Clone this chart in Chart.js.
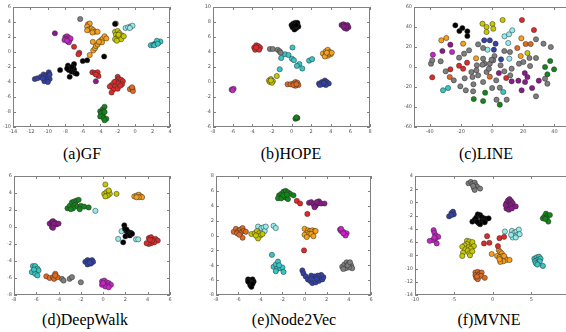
<!DOCTYPE html>
<html><head><meta charset="utf-8">
<script src="https://cdn.jsdelivr.net/npm/chart.js@4.4.0/dist/chart.umd.min.js"></script>
<style>
html,body{margin:0;padding:0;background:#fff;}
body{width:566px;height:332px;overflow:hidden;position:relative;}
canvas{position:absolute;}
.cap{position:absolute;font-family:"Liberation Serif","Times New Roman",serif;font-size:16px;color:#000;white-space:nowrap;transform:translate(-50%,-50%);}
</style></head><body>
<script>
// ---------- colours ----------
const C_BLACK='#000000', C_BLUE='#3442a6', C_GREEN='#13861c', C_RED='#e02a2a', C_CYAN='#35c6c6',
      C_LCYAN='#92ecec', C_MAG='#c824c8', C_PUR='#8c1a8c', C_YEL='#c8c800', C_ORA='#f8a01a',
      C_DORA='#e06a22', C_GRAY='#7e7e7e';

// ---------- (a) GF ----------
const aTicksX=[-14,-12,-10,-8,-6,-4,-2,0,2,4], aTicksY=[-10,-8,-6,-4,-2,0,2,4,6];
const a_gray=[[-6.3,4.4]];
const a_purple=[[-9.2,2.5],[-4.5,-3.9]];
const a_magenta=[[-8.0,2.0],[-7.8,2.1],[-7.6,1.9],[-7.9,1.7],[-7.5,1.6],[-7.7,1.4],[-7.4,1.8],[-8.1,1.6],[-7.6,1.3],[-7.8,1.5]];
const a_red=[[-7.0,0.7],[-6.4,-0.1],[-6.5,-0.3],[-4.9,-2.7],[-4.6,-2.8],[-4.3,-2.7],[-4.2,-3.2],[-4.5,-3.0],[-2.0,-3.3],[-1.9,-3.6],[-1.6,-3.7],[-1.4,-3.9],[-2.2,-3.9],[-2.4,-4.0],[-1.9,-4.2],[-2.7,-4.4],[-2.3,-4.6],[-1.5,-4.3],[-2.5,-5.0],[-2.7,-5.4],[-2.0,-4.9],[-1.7,-4.5],[-2.9,-4.6]];
const a_orange=[[-5.4,3.7],[-5.2,3.8],[-5.5,3.4],[-5.3,3.0],[-5.0,3.1],[-4.8,2.9],[-4.6,2.7],[-4.9,2.6],[-4.3,2.7],[-5.5,2.9],[-5.2,-0.4],[-4.8,0.2],[-4.6,0.5],[-4.5,0.8],[-4.3,1.0],[-4.1,1.3],[-3.9,1.6],[-3.7,1.8],[-3.5,2.1],[-3.3,1.8],[-3.8,1.3],[-4.85,1.35],[-4.15,1.35]];
const a_black=[[-8.6,-2.4],[-7.7,-1.8],[-7.5,-2.1],[-7.3,-2.2],[-7.1,-1.9],[-7.0,-2.3],[-7.3,-2.6],[-7.6,-2.4],[-7.0,-1.6],[-6.9,-2.8],[-7.5,-3.3],[-6.7,-2.9],[-6.0,-1.2],[-5.5,-1.1],[-3.55,-0.6],[-7.2,-2.0],[-7.8,-2.2],[-2.3,3.75]];
const a_blue=[[-11.5,-3.6],[-11.2,-3.5],[-10.8,-3.3],[-10.5,-3.0],[-10.2,-3.1],[-9.9,-2.7],[-10.0,-3.3],[-9.8,-3.6],[-10.2,-3.7],[-10.4,-3.9],[-10.0,-4.0],[-10.6,-3.5],[-9.8,-3.0]];
const a_dorange=[[-0.6,-4.95],[-0.3,-4.9],[-0.25,-5.2],[-0.35,-4.7]];
const a_green=[[-4.0,-7.9],[-3.7,-7.6],[-3.5,-7.3],[-3.6,-7.9],[-3.9,-8.2],[-3.7,-8.5],[-3.5,-8.0],[-4.0,-8.6],[-3.6,-8.8],[-3.3,-8.9],[-3.5,-9.1]];
const a_yellow=[[-2.2,3.8],[-2.3,2.7],[-2.0,2.8],[-1.8,2.5],[-2.2,2.3],[-1.5,2.2],[-2.0,2.0],[-1.8,1.8],[-2.3,1.7],[-1.6,1.7],[-2.1,1.5],[-1.9,2.3],[-1.3,2.1]];
const a_lcyan=[[-1.1,3.2],[-0.8,3.3],[-0.5,3.4],[-0.3,3.5],[-0.6,3.2]];
const a_cyan=[[1.8,0.9],[2.1,1.0],[2.3,1.1],[2.5,1.2],[2.7,1.3],[2.9,1.4],[2.5,1.5],[2.2,0.9],[2.6,1.1]];

// ---------- (b) HOPE ----------
const bTicksX=[-8,-6,-4,-2,0,2,4,6,8], bTicksY=[-6,-4,-2,0,2,4,6,8,10];
const b_black=[[0.0,7.6],[0.2,7.8],[0.4,7.9],[0.6,7.7],[0.7,7.4],[0.5,7.2],[0.3,7.0],[0.1,7.3],[0.4,7.5],[0.6,7.9],[0.2,7.5],[0.5,7.6]];
const b_purple=[[5.1,7.6],[5.3,7.7],[5.5,7.5],[5.7,7.6],[5.8,7.3],[5.6,7.1],[5.4,7.2],[5.6,7.4],[5.3,7.4]];
const b_magenta=[[-6.1,-1.0],[-5.9,-0.9],[-6.0,-1.1]];
const b_red=[[-3.8,4.6],[-3.6,4.9],[-3.4,4.8],[-3.2,4.6],[-3.5,4.4],[-3.7,4.3],[-3.3,4.3],[-3.6,4.6]];
const b_gray=[[-2.2,4.4],[-1.9,4.4],[-1.4,4.3],[-1.2,4.1],[-1.1,3.9]];
const b_cyan=[[0.1,4.6],[-0.65,3.7],[-0.3,3.6],[-1.05,3.2],[0.05,3.1],[0.25,2.9],[0.8,2.4],[0.55,2.15],[1.1,1.8],[1.8,2.85],[2.1,3.05],[-1.2,1.7]];
const b_orange=[[3.2,3.8],[3.5,4.1],[3.7,4.3],[3.9,4.0],[4.0,3.7],[3.7,3.5],[3.5,3.6],[3.8,3.8],[3.4,3.4],[4.1,3.9],[3.6,3.9]];
const b_yellow=[[-2.3,0.2],[-2.1,0.4],[-1.9,0.1],[-2.2,0.0],[-2.0,-0.1],[-2.1,0.2],[-1.5,0.8]];
const b_dorange=[[-0.4,-0.3],[-0.1,-0.3],[0.2,-0.2],[0.4,0.0],[0.6,-0.1],[0.7,-0.4],[0.4,-0.5],[0.2,-0.4],[0.5,-0.3]];
const b_blue=[[2.8,-0.2],[3.1,0.0],[3.4,0.2],[3.6,0.0],[3.8,-0.2],[3.5,-0.4],[3.2,-0.3],[2.9,-0.4],[3.3,-0.1]];
const b_green=[[0.4,-4.9],[0.6,-4.8],[0.5,-4.7]];

// ---------- (c) LINE ----------
const cTicksX=[-40,-20,0,20,40], cTicksY=[-60,-40,-20,0,20,40,60];
const c_gray=[[-39.1,3.3],[-38.3,6.7],[-32.9,5.7],[-29.7,-4.3],[-24.5,-13.3],[-21.1,9.3],[-17.9,13.3],[-14.7,16.7],[-8.9,22.7],[-5.7,19],[-5.7,8.3],[-9.7,1.7],[-13.2,-5],[-10,-3.3],[-4.8,3.3],[-1.4,3.3],[1.6,11],[0.8,6.7],[-3.5,-5],[-8.9,-8.3],[-5.7,-15],[-11.9,-17.3],[-17.5,-11.3],[-20.3,-19.3],[-16.8,-23.3],[-12.1,-24.3],[0.1,-21],[5,-20.7],[2.7,-13.3],[7.9,-4.3],[12.6,-1.7],[11.7,-8.3],[7.9,16],[11.5,15],[17.3,3.3],[24.4,1],[20.1,5],[28.2,27.7],[33,23.3],[37.7,20],[24,9],[28.2,9],[34,-11.7],[35.5,-16.7],[28.2,-29.3],[2.9,-32.7],[9.4,-32.7],[-6.1,2.3],[-2,-1.7],[-12.5,-10],[-0.3,7.3],[5.5,1.7]];
const c_black=[[-23.5,41.7],[-20.9,36],[-19,39],[-15.8,35.7],[-15.8,31]];
const c_yellow=[[-6.1,43.3],[-3.5,40],[-3.5,35],[0.3,43],[0.8,38.3],[6.8,47],[22.7,14]];
const c_red=[[19.2,47],[26.9,37],[-38.3,-10.3],[-26.7,-2.3],[-21.1,1.3],[-18.5,-1.7],[-16,4.3],[9.1,-11]];
const c_orange=[[-32.5,26.7],[-29.3,29],[-18.5,23.3],[-10.2,8.7],[18.8,28.7],[18.4,11]];
const c_dorange=[[-27.1,-10],[-1.4,-9.7],[16.2,19],[21.6,23],[24.8,23]];
const c_blue=[[-5,26.7],[-1.4,26.7],[2.3,23.3],[1.2,17.3],[5.8,7.7]];
const c_lcyan=[[-2.9,17.3],[8,30.7],[10.9,32.7],[13,36.7],[10.4,24],[11.1,8.3]];
const c_cyan=[[-31.4,-23.3],[-28.2,-21],[7.2,-25]];
const c_purple=[[-31.8,16],[-26.7,22.3],[4.4,-6],[12.6,-14.3],[16.9,-13.7],[21,-6],[22.7,-10],[21.2,-15],[30,-13.7],[25.7,-21],[19,-23.3]];
const c_magenta=[[-37.9,12.3],[-25.6,15]];
const c_green=[[37.3,6],[39.8,-2.3],[34,0],[35.5,-7.3],[-11.7,-32],[-5.7,-34],[-4.4,-25.7],[5,-37.7]];

// ---------- (d) DeepWalk ----------
const dTicksX=[-8,-6,-4,-2,0,2,4,6], dTicksY=[-8,-6,-4,-2,0,2,4,6];
const d_yellow=[[0.2,5.0],[0.1,3.9],[0.3,4.1],[0.5,4.2],[0.6,3.9],[0.4,3.7],[0.2,3.6],[1.2,3.9],[0.5,4.3]];
const d_orange=[[2.8,3.6],[3.0,3.7],[3.2,3.8],[3.4,3.6],[3.5,3.5],[3.2,3.5],[3.0,3.5]];
const d_green=[[-3.2,2.2],[-3.0,2.5],[-2.8,2.9],[-2.6,3.0],[-2.4,3.1],[-2.2,3.2],[-2.5,2.6],[-2.3,2.4],[-2.0,2.5],[-2.1,2.1],[-2.7,2.2],[-1.7,2.4],[-1.3,2.3],[-2.9,2.1]];
const d_purple=[[-4.8,0.4],[-4.6,0.6],[-4.5,0.7],[-4.3,0.5],[-4.2,0.3],[-4.5,0.2],[-4.6,0.0],[-4.4,0.4],[-4.0,0.4],[-4.5,-0.1]];
const d_black=[[1.9,0.2],[1.95,-0.2],[2.1,-0.5],[2.3,-0.6],[2.5,-0.7],[2.2,-0.9],[2.0,-1.1],[2.4,-1.0],[2.6,-0.8],[1.8,-1.8],[2.1,-0.3]];
const d_lcyan=[[-0.7,1.9],[1.65,-0.5],[1.35,-1.4],[2.95,-1.45],[3.15,-1.45]];
const d_red=[[4.1,-1.3],[4.3,-1.2],[4.5,-1.5],[4.7,-1.4],[4.9,-1.6],[4.6,-1.8],[4.3,-1.9],[4.1,-2.0],[3.9,-1.9],[4.4,-1.6],[4.2,-1.5]];
const d_blue=[[-1.6,-4.1],[-1.4,-3.9],[-1.2,-4.0],[-1.0,-3.9],[-0.9,-4.1],[-1.1,-4.3],[-1.4,-4.4],[-1.2,-4.2]];
const d_cyan=[[-6.3,-4.6],[-6.1,-4.6],[-5.9,-4.9],[-6.2,-5.1],[-6.4,-5.3],[-6.0,-5.2],[-5.8,-5.1],[-6.1,-5.5],[-5.9,-5.7],[-6.2,-5.0]];
const d_dorange=[[-5.1,-5.8],[-4.8,-6.0],[-4.5,-5.9],[-4.3,-5.5],[-4.4,-6.1],[-4.1,-5.9],[-4.3,-5.7]];
const d_gray=[[-3.7,-6.1],[-3.55,-6.3],[-3.0,-6.1],[-2.8,-5.9],[-2.0,-6.5]];
const d_magenta=[[-0.1,-6.4],[0.1,-6.3],[0.3,-6.5],[0.5,-6.6],[0.7,-6.8],[0.4,-6.9],[0.2,-7.0],[-0.1,-6.8],[0.0,-6.6],[0.5,-7.1]];

// ---------- (e) Node2Vec ----------
const eTicksX=[-8,-6,-4,-2,0,2,4,6], eTicksY=[-8,-6,-4,-2,0,2,4,6,8];
const e_green=[[-2.3,5.4],[-2.1,5.6],[-1.9,5.9],[-1.7,6.0],[-1.5,5.8],[-1.3,5.6],[-1.0,5.4],[-2.4,5.0],[-2.1,5.0],[-1.7,5.1],[-1.5,4.9],[-1.9,5.4],[-1.6,5.5]];
const e_red=[[-0.7,4.65],[-0.4,4.3],[0.25,2.9],[-0.05,-2.0]];
const e_purple=[[0.4,4.4],[0.6,4.5],[0.8,4.2],[1.0,4.0],[1.2,4.3],[1.3,4.6],[1.5,4.3],[1.8,4.3],[1.1,4.5],[0.9,3.8]];
const e_dorange=[[-6.4,0.5],[-6.2,0.9],[-6.0,0.6],[-5.8,0.8],[-5.6,1.0],[-5.5,0.6],[-5.8,0.3],[-6.1,0.3],[-5.6,-0.3],[-5.9,0.1],[-5.3,0.5]];
const e_yellow=[[-4.8,0.2],[-4.5,0.3],[-4.3,0.6],[-4.1,0.3],[-4.0,0.0],[-4.2,-0.4],[-4.4,0.0],[-3.8,0.2]];
const e_lcyan=[[-4.2,1.2],[-3.9,1.0],[-3.7,1.1],[-3.6,0.6],[-2.8,1.3],[-2.6,1.0],[-3.5,1.2]];
const e_orange=[[0.0,0.9],[0.3,0.7],[0.5,0.6],[0.7,0.7],[0.9,0.6],[0.2,0.3],[0.4,0.2],[0.0,0.1],[0.2,-0.2],[0.6,0.2],[0.8,-0.1],[1.0,0.6]];
const e_magenta=[[3.2,0.8],[3.3,0.6],[3.5,0.5],[3.6,0.2],[3.8,0.3],[3.7,0.0],[3.5,0.3],[3.3,0.9]];
const e_cyan=[[-2.95,-2.6],[-2.8,-4.2],[-2.6,-3.9],[-2.4,-3.5],[-2.5,-4.5],[-2.2,-4.4],[-2.0,-4.3],[-1.9,-4.9],[-2.6,-4.8],[-2.3,-4.0]];
const e_gray=[[3.4,-4.2],[3.6,-3.9],[3.8,-3.6],[4.0,-3.8],[4.2,-4.0],[4.3,-4.4],[4.0,-4.3],[3.7,-4.4],[3.5,-4.5],[3.9,-4.0],[4.1,-3.6]];
const e_blue=[[-0.2,-4.7],[-0.1,-5.1],[0.1,-5.5],[0.3,-5.9],[0.5,-6.1],[0.7,-6.4],[1.0,-6.3],[1.3,-6.1],[1.6,-5.9],[1.7,-5.6],[1.5,-5.3],[1.2,-5.4],[0.9,-5.5],[0.6,-5.4],[0.6,-5.8],[1.1,-5.8]];
const e_black=[[-5.1,-5.9],[-4.9,-6.0],[-4.7,-5.9],[-4.6,-6.2],[-4.8,-6.4],[-5.0,-6.3],[-4.9,-6.7],[-4.8,-6.9],[-4.7,-6.5],[-5.1,-6.2]];

// ---------- (f) MVNE ----------
const fTicksX=[-10,-5,0,5,10], fTicksY=[-14,-12,-10,-8,-6,-4,-2,0,2,4];
const f_gray=[[-3.1,2.9],[-2.8,3.1],[-2.6,2.8],[-2.3,3.0],[-2.2,2.6],[-2.0,2.4],[-2.4,2.2],[-2.3,1.9],[-1.6,2.1],[-2.5,2.5]];
const f_purple=[[1.8,-0.1],[2.0,0.3],[2.2,0.5],[2.4,0.2],[2.6,-0.1],[2.3,-0.4],[2.0,-0.6],[1.8,-0.9],[2.1,-1.1],[2.5,-0.9],[3.0,-0.6],[1.7,-0.4]];
const f_blue=[[-5.6,-2.1],[-5.3,-1.6],[-5.1,-1.4],[-5.0,-1.8],[-5.3,-1.9]];
const f_black=[[-2.6,-2.9],[-2.3,-2.6],[-2.1,-2.3],[-1.9,-1.8],[-1.6,-1.9],[-1.4,-2.2],[-1.1,-2.4],[-0.8,-2.5],[-1.2,-2.8],[-1.5,-2.9],[-1.8,-3.1],[-1.6,-3.3],[-2.0,-2.9],[-1.0,-3.0],[-0.5,-2.4]];
const f_green=[[6.5,-2.4],[6.7,-2.1],[6.9,-1.7],[7.1,-2.0],[7.4,-1.9],[7.0,-2.4],[7.2,-2.9],[6.8,-2.5]];
const f_magenta=[[-7.6,-4.2],[-7.5,-4.6],[-7.3,-5.0],[-7.0,-5.2],[-7.4,-5.5],[-7.7,-5.7],[-8.1,-5.8],[-7.2,-6.2],[-7.5,-5.3]];
const f_red=[[-0.7,-5.1],[-1.1,-6.2],[-0.4,-6.1],[0.9,-5.4],[1.5,-5.2],[0.7,-6.6]];
const f_lcyan=[[1.6,-4.4],[2.5,-4.3],[2.8,-4.6],[3.1,-4.4],[3.4,-4.1],[3.2,-4.9],[2.8,-5.1],[2.6,-5.3],[3.0,-5.3],[3.5,-4.8],[2.4,-4.9]];
const f_yellow=[[-3.3,-5.8],[-3.0,-5.9],[-2.8,-6.3],[-2.6,-6.0],[-2.4,-6.6],[-3.3,-6.3],[-3.6,-6.5],[-3.9,-6.7],[-3.1,-6.8],[-2.8,-7.0],[-3.5,-7.1],[-3.2,-7.3],[-3.0,-7.7],[-2.9,-8.0],[-3.8,-7.6],[-3.9,-8.1],[-2.6,-7.4]];
const f_orange=[[-0.1,-7.8],[0.8,-7.2],[1.0,-7.5],[1.2,-7.7],[0.6,-8.1],[0.9,-8.3],[1.3,-8.1],[1.6,-8.4],[1.8,-8.7],[2.2,-8.7],[1.4,-8.9],[1.0,-9.0],[0.9,-8.6],[1.5,-8.1]];
const f_cyan=[[5.4,-8.5],[5.7,-8.3],[6.0,-8.2],[5.8,-8.7],[6.2,-8.5],[5.5,-8.9],[5.9,-9.1],[6.1,-8.9],[5.6,-9.2],[6.5,-9.6],[5.8,-9.4]];
const f_dorange=[[-2.2,-10.6],[-1.9,-10.5],[-1.6,-10.7],[-1.4,-10.6],[-2.2,-11.0],[-1.8,-11.0],[-1.5,-11.1],[-2.1,-11.4],[-1.9,-11.6],[-1.0,-11.4],[-2.0,-11.2]];

// ---------- frame + inward ticks ----------
const framePlugin={id:'frame',afterDatasetsDraw(chart){
  const {ctx,chartArea:a,scales:{x,y}}=chart;
  ctx.save();
  ctx.strokeStyle='#808080';ctx.lineWidth=1;
  ctx.beginPath();
  x.ticks.forEach(t=>{const p=Math.round(x.getPixelForValue(t.value))+0.5;
    ctx.moveTo(p,a.bottom);ctx.lineTo(p,a.bottom-3);ctx.moveTo(p,a.top);ctx.lineTo(p,a.top+3);});
  y.ticks.forEach(t=>{const p=Math.round(y.getPixelForValue(t.value))+0.5;
    ctx.moveTo(a.left,p);ctx.lineTo(a.left+3,p);ctx.moveTo(a.right,p);ctx.lineTo(a.right-3,p);});
  ctx.stroke();
  ctx.strokeRect(Math.round(a.left)+0.5,Math.round(a.top)+0.5,Math.round(a.right-a.left)-1,Math.round(a.bottom-a.top)-1);
  ctx.restore();
}};

const ML=16,MT=7,MB=12,MR=8;
function panel(rect,xr,yr,xt,yt,series){
  const c=document.createElement('canvas');
  const w=rect.r-rect.l+ML+MR,h=rect.b-rect.t+MT+MB;
  c.width=w;c.height=h;
  c.style.left=(rect.l-ML)+'px';c.style.top=(rect.t-MT)+'px';
  c.style.width=w+'px';c.style.height=h+'px';
  document.body.appendChild(c);
  const tickOpts={font:{size:5,family:'DejaVu Sans'},color:'#555',padding:2,maxRotation:0,autoSkip:false};
  new Chart(c,{type:'scatter',
    data:{datasets:series.map(s=>({data:s[0].map(p=>({x:p[0],y:p[1]})),
      pointBackgroundColor:s[1],pointBorderColor:'#2a2a2a',pointBorderWidth:0.5,pointRadius:2.6,pointHoverRadius:2.6}))},
    options:{responsive:false,animation:false,devicePixelRatio:1,
      layout:{padding:{left:0,top:MT,right:MR,bottom:0}},
      plugins:{legend:{display:false},tooltip:{enabled:false}},
      scales:{
        x:{type:'linear',min:xr[0],max:xr[1],grid:{display:false,drawTicks:false},border:{display:false},ticks:tickOpts,
           afterBuildTicks:s=>{s.ticks=xt.map(v=>({value:v}));},afterFit:s=>{s.height=MB;}},
        y:{type:'linear',min:yr[0],max:yr[1],grid:{display:false,drawTicks:false},border:{display:false},ticks:tickOpts,
           afterBuildTicks:s=>{s.ticks=yt.map(v=>({value:v}));},afterFit:s=>{s.width=ML;}}
      }},
    plugins:[framePlugin]});
}
function caption(text,x,y){const d=document.createElement('div');d.className='cap';d.textContent=text;d.style.left=x+'px';d.style.top=y+'px';document.body.appendChild(d);}

panel({l:13,r:170,t:7,b:127},[-14,4],[-10,6],aTicksX,aTicksY,[
  [a_blue,C_BLUE],[a_black,C_BLACK],[a_magenta,C_MAG],[a_purple,C_PUR],[a_gray,C_GRAY],[a_orange,C_ORA],
  [a_red,C_RED],[a_dorange,C_DORA],[a_green,C_GREEN],[a_yellow,C_YEL],[a_lcyan,C_LCYAN],[a_cyan,C_CYAN]]);
panel({l:213,r:370,t:7,b:127},[-8,8],[-6,10],bTicksX,bTicksY,[
  [b_black,C_BLACK],[b_purple,C_PUR],[b_magenta,C_MAG],[b_red,C_RED],[b_gray,C_GRAY],[b_cyan,C_CYAN],
  [b_orange,C_ORA],[b_yellow,C_YEL],[b_dorange,C_DORA],[b_blue,C_BLUE],[b_green,C_GREEN]]);
panel({l:414,r:570,t:7,b:127},[-50,50],[-60,60],cTicksX,cTicksY,[
  [c_gray,C_GRAY],[c_black,C_BLACK],[c_yellow,C_YEL],[c_red,C_RED],[c_orange,C_ORA],[c_dorange,C_DORA],
  [c_blue,C_BLUE],[c_lcyan,C_LCYAN],[c_cyan,C_CYAN],[c_purple,C_PUR],[c_magenta,C_MAG],[c_green,C_GREEN]]);
panel({l:14,r:170,t:176,b:295},[-8,6],[-8,6],dTicksX,dTicksY,[
  [d_yellow,C_YEL],[d_orange,C_ORA],[d_green,C_GREEN],[d_purple,C_PUR],[d_black,C_BLACK],[d_lcyan,C_LCYAN],
  [d_red,C_RED],[d_blue,C_BLUE],[d_cyan,C_CYAN],[d_dorange,C_DORA],[d_gray,C_GRAY],[d_magenta,C_MAG]]);
panel({l:216,r:371,t:176,b:295},[-8,6],[-8,8],eTicksX,eTicksY,[
  [e_green,C_GREEN],[e_red,C_RED],[e_purple,C_PUR],[e_dorange,C_DORA],[e_yellow,C_YEL],[e_lcyan,C_LCYAN],
  [e_orange,C_ORA],[e_magenta,C_MAG],[e_cyan,C_CYAN],[e_gray,C_GRAY],[e_blue,C_BLUE],[e_black,C_BLACK]]);
panel({l:415,r:570,t:176,b:295},[-10,10],[-14,4],fTicksX,fTicksY,[
  [f_gray,C_GRAY],[f_purple,C_PUR],[f_blue,C_BLUE],[f_black,C_BLACK],[f_green,C_GREEN],[f_magenta,C_MAG],
  [f_red,C_RED],[f_lcyan,C_LCYAN],[f_yellow,C_YEL],[f_orange,C_ORA],[f_cyan,C_CYAN],[f_dorange,C_DORA]]);

caption('(a)GF',82,154);
caption('(b)HOPE',291,154);
caption('(c)LINE',486,154);
caption('(d)DeepWalk',85,320);
caption('(e)Node2Vec',294,320);
caption('(f)MVNE',489,320);
</script>
</body></html>
